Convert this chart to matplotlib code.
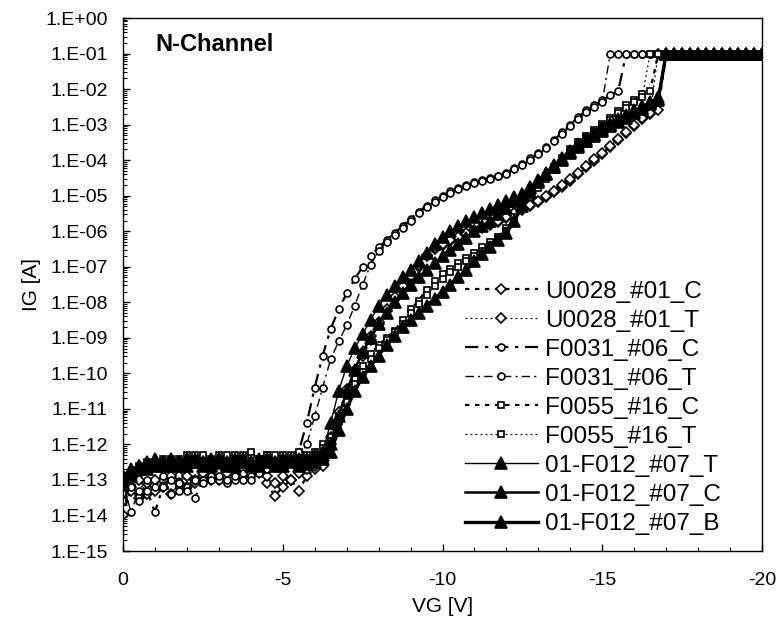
import numpy as np
import matplotlib
matplotlib.use("Agg")
import matplotlib.pyplot as plt
from matplotlib.ticker import LogLocator, FuncFormatter, MultipleLocator, NullFormatter

plt.rcParams['font.family'] = ['Liberation Sans', 'DejaVu Sans']
plt.rcParams['axes.unicode_minus'] = False

# gate voltage sweep [V] shared by all devices
vg = [0.0, -0.25, -0.5, -0.75, -1.0, -1.25, -1.5, -1.75, -2.0, -2.25,
      -2.5, -2.75, -3.0, -3.25, -3.5, -3.75, -4.0, -4.25, -4.5, -4.75,
      -5.0, -5.25, -5.5, -5.75, -6.0, -6.25, -6.5, -6.75, -7.0, -7.25,
      -7.5, -7.75, -8.0, -8.25, -8.5, -8.75, -9.0, -9.25, -9.5, -9.75,
      -10.0, -10.25, -10.5, -10.75, -11.0, -11.25, -11.5, -11.75, -12.0, -12.25,
      -12.5, -12.75, -13.0, -13.25, -13.5, -13.75, -14.0, -14.25, -14.5, -14.75,
      -15.0, -15.25, -15.5, -15.75, -16.0, -16.25, -16.5, -16.75, -17.0, -17.25,
      -17.5, -17.75, -18.0, -18.25, -18.5, -18.75, -19.0, -19.25, -19.5, -19.75,
      -20.0]

# log10(IG)
u0028_c = [-14.0, -13.2, -13.5, -13.1, -13.3, -13.0, -13.4, -12.9, -13.2, -13.1,
           -12.9, -13.0, -12.8, -12.9, -12.8, -12.9, -12.8, -12.7, -13.1, -13.45,
           -13.2, -13.0, -13.3, -12.9, -12.7, -12.6, -12.0, -11.3, -10.6, -10.0,
           -9.5, -9.05, -8.6, -8.25, -7.9, -7.6, -7.3, -7.0, -6.7, -6.5,
           -6.38, -6.28, -6.18, -6.08, -5.98, -5.9, -5.82, -5.75, -5.62, -5.5,
           -5.4, -5.3, -5.18, -5.05, -4.9, -4.75, -4.58, -4.4, -4.2, -4.02,
           -3.83, -3.63, -3.43, -3.23, -3.03, -2.85, -2.7, -2.58, -1.0, -1.0,
           -1.0, -1.0, -1.0, -1.0, -1.0, -1.0, -1.0, -1.0, -1.0, -1.0,
           -1.0]
u0028_t = [-13.6, -13.3, -13.0, -13.4, -13.0, -13.2, -12.9, -13.1, -12.9, -13.0,
           -12.8, -12.9, -13.0, -12.8, -12.7, -12.9, -12.8, -12.8, -12.9, -13.1,
           -12.9, -13.0, -12.8, -12.7, -12.6, -12.4, -11.8, -11.1, -10.45, -9.9,
           -9.4, -8.95, -8.55, -8.2, -7.85, -7.55, -7.25, -6.95, -6.68, -6.48,
           -6.35, -6.25, -6.15, -6.05, -5.96, -5.88, -5.8, -5.72, -5.6, -5.48,
           -5.37, -5.26, -5.14, -5.0, -4.86, -4.7, -4.53, -4.35, -4.17, -3.98,
           -3.8, -3.6, -3.4, -3.2, -3.0, -2.82, -2.68, -1.0, -1.0, -1.0,
           -1.0, -1.0, -1.0, -1.0, -1.0, -1.0, -1.0, -1.0, -1.0, -1.0,
           -1.0]
f0031_c = [-13.5, -13.2, -13.6, -13.3, -13.9, -13.2, -13.0, -13.3, -13.2, -13.5,
           -13.0, -12.9, -13.0, -13.1, -13.0, -13.0, -12.9, -12.8, -12.7, -12.6,
           -12.5, -12.4, -12.2, -11.4, -10.4, -9.5, -8.75, -8.2, -7.75, -7.35,
           -7.0, -6.7, -6.45, -6.25, -6.05, -5.85, -5.65, -5.45, -5.28, -5.13,
           -5.0, -4.88, -4.78, -4.7, -4.62, -4.56, -4.5, -4.44, -4.35, -4.22,
           -4.1, -3.95, -3.8, -3.62, -3.42, -3.22, -3.0, -2.78, -2.6, -2.45,
           -2.32, -2.18, -2.05, -1.0, -1.0, -1.0, -1.0, -1.0, -1.0, -1.0,
           -1.0, -1.0, -1.0, -1.0, -1.0, -1.0, -1.0, -1.0, -1.0, -1.0,
           -1.0]
f0031_t = [-13.1, -13.9, -13.3, -13.0, -13.2, -12.9, -13.4, -13.1, -13.3, -13.0,
           -13.1, -13.0, -12.9, -13.0, -12.9, -12.8, -13.0, -12.8, -12.7, -12.6,
           -12.6, -12.5, -12.4, -12.0, -11.2, -10.4, -9.6, -9.1, -8.65, -8.1,
           -7.5, -6.95, -6.55, -6.3, -6.1, -5.9, -5.7, -5.5, -5.32, -5.17,
           -5.04, -4.92, -4.82, -4.73, -4.65, -4.58, -4.52, -4.46, -4.38, -4.26,
           -4.14, -3.99, -3.84, -3.66, -3.46, -3.26, -3.05, -2.84, -2.65, -2.5,
           -2.36, -1.0, -1.0, -1.0, -1.0, -1.0, -1.0, -1.0, -1.0, -1.0,
           -1.0, -1.0, -1.0, -1.0, -1.0, -1.0, -1.0, -1.0, -1.0, -1.0,
           -1.0]
f0055_c = [-13.4, -12.9, -12.6, -12.5, -12.6, -12.4, -12.5, -12.4, -12.5, -12.3,
           -12.4, -12.5, -12.3, -12.4, -12.3, -12.4, -12.3, -12.4, -12.3, -12.4,
           -12.3, -12.4, -12.3, -12.3, -12.2, -12.0, -11.8, -11.2, -10.6, -10.15,
           -9.8, -9.45, -9.2, -9.0, -8.8, -8.5, -8.2, -7.95, -7.65, -7.4,
           -7.2, -7.05, -6.9, -6.75, -6.6, -6.45, -6.3, -6.15, -5.9, -5.6,
           -5.25, -4.95, -4.7, -4.45, -4.2, -3.95, -3.7, -3.5, -3.32, -3.15,
           -2.97, -2.8, -2.62, -2.45, -2.3, -2.15, -2.05, -1.0, -1.0, -1.0,
           -1.0, -1.0, -1.0, -1.0, -1.0, -1.0, -1.0, -1.0, -1.0, -1.0,
           -1.0]
f0055_t = [-13.6, -13.0, -12.8, -12.6, -12.5, -12.6, -12.4, -12.5, -12.3, -12.4,
           -12.3, -12.4, -12.5, -12.3, -12.4, -12.3, -12.2, -12.4, -12.3, -12.3,
           -12.4, -12.3, -12.2, -12.4, -12.3, -12.1, -11.9, -11.35, -10.8, -10.3,
           -9.95, -9.6, -9.3, -9.05, -8.85, -8.6, -8.3, -8.05, -7.8, -7.55,
           -7.35, -7.15, -7.0, -6.85, -6.7, -6.55, -6.4, -6.22, -6.0, -5.7,
           -5.35, -5.05, -4.78, -4.52, -4.27, -4.02, -3.78, -3.57, -3.38, -3.2,
           -3.03, -2.86, -2.68, -2.52, -2.37, -2.22, -1.0, -1.0, -1.0, -1.0,
           -1.0, -1.0, -1.0, -1.0, -1.0, -1.0, -1.0, -1.0, -1.0, -1.0,
           -1.0]
f012_t = [-13.0, -12.8, -12.7, -12.5, -12.4, -12.5, -12.4, -12.5, -12.4, -12.4,
          -12.5, -12.4, -12.4, -12.5, -12.4, -12.4, -12.5, -12.4, -12.4, -12.5,
          -12.4, -12.45, -12.4, -12.4, -12.3, -12.2, -11.4, -10.5, -9.8, -9.3,
          -8.9, -8.5, -8.1, -7.8, -7.55, -7.3, -7.1, -6.85, -6.6, -6.35,
          -6.15, -6.0, -5.85, -5.72, -5.6, -5.5, -5.38, -5.26, -5.15, -5.05,
          -4.95, -4.75, -4.55, -4.35, -4.15, -3.95, -3.75, -3.55, -3.4, -3.25,
          -3.1, -2.97, -2.85, -2.72, -2.6, -2.47, -2.35, -2.23, -1.0, -1.0,
          -1.0, -1.0, -1.0, -1.0, -1.0, -1.0, -1.0, -1.0, -1.0, -1.0,
          -1.0]
f012_c = [-13.1, -12.9, -12.6, -12.6, -12.5, -12.5, -12.6, -12.5, -12.4, -12.5,
          -12.5, -12.5, -12.4, -12.5, -12.5, -12.4, -12.5, -12.5, -12.4, -12.5,
          -12.5, -12.4, -12.5, -12.45, -12.4, -12.3, -12.0, -11.2, -10.5, -9.9,
          -9.4, -9.0, -8.6, -8.3, -8.0, -7.75, -7.5, -7.3, -7.1, -6.9,
          -6.7, -6.52, -6.35, -6.18, -6.0, -5.85, -5.7, -5.52, -5.35, -5.15,
          -5.0, -4.78, -4.58, -4.38, -4.18, -3.98, -3.78, -3.6, -3.45, -3.3,
          -3.15, -3.02, -2.9, -2.77, -2.65, -2.52, -2.4, -2.28, -1.0, -1.0,
          -1.0, -1.0, -1.0, -1.0, -1.0, -1.0, -1.0, -1.0, -1.0, -1.0,
          -1.0]
f012_b = [-12.9, -12.7, -12.6, -12.7, -12.6, -12.6, -12.5, -12.6, -12.6, -12.5,
          -12.6, -12.6, -12.5, -12.6, -12.6, -12.5, -12.6, -12.6, -12.5, -12.6,
          -12.6, -12.5, -12.6, -12.55, -12.5, -12.4, -12.2, -11.6, -11.0, -10.5,
          -10.1, -9.8, -9.5, -9.2, -8.95, -8.7, -8.5, -8.3, -8.1, -7.9,
          -7.7, -7.5, -7.3, -7.1, -6.85, -6.65, -6.45, -6.25, -6.05, -5.7,
          -5.3, -4.9, -4.62, -4.4, -4.2, -4.0, -3.8, -3.62, -3.47, -3.32,
          -3.17, -3.04, -2.92, -2.8, -2.67, -2.55, -2.43, -2.3, -1.0, -1.0,
          -1.0, -1.0, -1.0, -1.0, -1.0, -1.0, -1.0, -1.0, -1.0, -1.0,
          -1.0]

series = [
    ("U0028_#01_C", u0028_c, dict(ls=(0, (2, 2.5)), lw=1.6, marker="D", ms=5, mfc="white")),
    ("U0028_#01_T", u0028_t, dict(ls=(0, (1.5, 2.5)), lw=0.9, marker="D", ms=5, mfc="white")),
    ("F0031_#06_C", f0031_c, dict(ls=(0, (6, 3, 1.5, 3)), lw=1.6, marker="o", ms=5, mfc="white")),
    ("F0031_#06_T", f0031_t, dict(ls=(0, (6, 3, 1.5, 3)), lw=1.0, marker="o", ms=5, mfc="white")),
    ("F0055_#16_C", f0055_c, dict(ls=(0, (2, 2.5)), lw=1.6, marker="s", ms=5, mfc="white")),
    ("F0055_#16_T", f0055_t, dict(ls=(0, (1.5, 2.5)), lw=0.9, marker="s", ms=5, mfc="white")),
    ("01-F012_#07_T", f012_t, dict(ls="-", lw=1.0, marker="^", ms=8, mfc="black")),
    ("01-F012_#07_C", f012_c, dict(ls="-", lw=1.8, marker="^", ms=8, mfc="black")),
    ("01-F012_#07_B", f012_b, dict(ls="-", lw=2.4, marker="^", ms=8, mfc="black")),
]

fig = plt.figure(figsize=(7.77, 6.28), dpi=100)
ax = fig.add_axes([0.1583, 0.1226, 0.8224, 0.8487])

vg_arr = np.array(vg)
for name, logi, st in series:
    ax.plot(vg_arr, 10.0 ** np.array(logi), color="black", mec="black", mew=1.2,
            label=name, **st)

ax.set_yscale("log")
ax.set_ylim(1e-15, 1e0)
ax.set_xlim(0, -20)

ax.yaxis.set_major_locator(LogLocator(base=10, numticks=20))
ax.yaxis.set_minor_locator(LogLocator(base=10, subs=np.arange(2, 10), numticks=20))
ax.yaxis.set_minor_formatter(NullFormatter())
ax.yaxis.set_major_formatter(FuncFormatter(lambda v, p: "1.E%+03d" % int(round(np.log10(v)))))
ax.set_xticks([0, -5, -10, -15, -20])
ax.xaxis.set_minor_locator(MultipleLocator(1))

ax.tick_params(axis="both", which="both", direction="in", top=False, right=False)
ax.tick_params(axis="both", which="major", length=5, width=1, labelsize=14)
ax.tick_params(axis="both", which="minor", length=3, width=0.8)
ax.tick_params(axis="x", which="major", pad=15)
ax.tick_params(axis="y", which="major", pad=11)
for sp in ax.spines.values():
    sp.set_linewidth(1.0)

ax.set_xlabel("VG [V]", fontsize=15, labelpad=6)
ax.set_ylabel("IG [A]", fontsize=15, labelpad=3)

ax.text(0.05, 0.95, "N-Channel", transform=ax.transAxes, fontsize=17,
        fontweight="bold", va="center", ha="left")

ax.legend(loc="lower left", bbox_to_anchor=(0.535, 0.03), frameon=False,
          fontsize=17.5, handlelength=3.0, handletextpad=0.3, labelspacing=0.29,
          borderpad=0, borderaxespad=0, numpoints=1)

fig.savefig("out.png", dpi=100)
